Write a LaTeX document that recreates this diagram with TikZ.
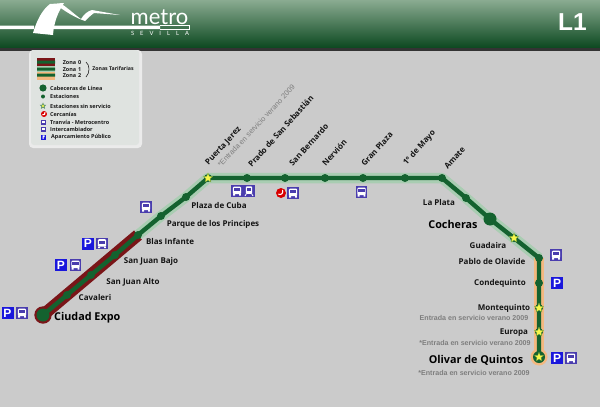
\documentclass[tikz,border=0pt]{standalone}
\usepackage{fontspec}
\setmainfont{Open Sans}
\newfontfamily\grayfont{Liberation Sans}
\newfontfamily\logofont{Lato}
\usetikzlibrary{shapes.geometric,backgrounds}
\definecolor{linegreen}{HTML}{14622F}
\definecolor{bandgreen}{HTML}{A9CDB2}
\definecolor{bandred}{HTML}{7A1518}
\definecolor{bandorange}{HTML}{F3B87F}
\definecolor{bgray}{HTML}{CBCBCB}
\definecolor{iconbus}{HTML}{4A3DAE}
\definecolor{iconp}{HTML}{1A17DC}
\definecolor{labelgray}{HTML}{7E7E7E}
\definecolor{starfill}{HTML}{F6F64A}
\definecolor{headtop}{HTML}{8AAB91}
\definecolor{headmid}{HTML}{3F7A50}
\definecolor{headbot}{HTML}{0E4A22}
\definecolor{panel}{HTML}{DFE3E0}
\tikzset{
  x=1pt,y=-1pt,
  stn/.style={circle,fill=linegreen,inner sep=0,minimum size=8},
  terminal/.style={circle,fill=linegreen,inner sep=0,minimum size=13},
  starstn/.style={star,star points=5,star point ratio=2.3,fill=starfill,draw=linegreen!60!starfill,line width=.3,inner sep=0,minimum size=10},
  lab/.style={font=\bfseries\fontsize{8}{9}\selectfont,text=black!92,inner sep=0},
  biglab/.style={font=\bfseries\fontsize{10.8}{12}\selectfont,text=black,inner sep=0},
  rlab/.style={lab,rotate=48,anchor=south west},
  note/.style={font=\grayfont\bfseries\fontsize{7.1}{8}\selectfont,text=labelgray,inner sep=0},
  leg/.style={font=\bfseries\fontsize{5.45}{6}\selectfont,text=black!90,inner sep=0,anchor=west},
  mainline/.style={line width=4.4,draw=linegreen,line join=round},
  zone0/.style={line width=12,draw=bandred},
  zone1/.style={line width=10.5,draw=bandgreen,line join=round},
  zone2/.style={line width=9.5,draw=bandorange},
  busicon/.pic={
    \fill[iconbus] (-5.7,-5.7) rectangle (5.7,5.7);
    \fill[white,rounded corners=1] (-4.2,-4.3) rectangle (4.2,3.2);
    \fill[iconbus] (-3.2,-2.8) rectangle (3.2,0);
    \fill[white] (-3.8,3) rectangle (-2,4.6) (2,3) rectangle (3.8,4.6);
  },
  tramicon/.pic={
    \fill[iconbus] (-5.7,-5.7) rectangle (5.7,5.7);
    \fill[white,rounded corners=1] (-3.2,-4.6) rectangle (3.2,2.8);
    \fill[iconbus] (-2.3,-3.2) rectangle (2.3,-.4);
    \draw[white,line width=.8] (-2.5,2.5) -- (-4,5) (2.5,2.5) -- (4,5);
  },
  parkicon/.pic={
    \fill[iconp] (-6,-6) rectangle (6,6);
    \node[text=white,inner sep=0,font=\grayfont\bfseries\fontsize{12}{12}\selectfont] at (0,0) {P};
  },
  cericon/.pic={
    \fill[red!85!black] (0,0) circle (5);
    \draw[white,line width=1.1] (1.6,-3.2) .. controls (2.4,0) and (.5,2.4) .. (-2.6,1.2);
  },
  smallbus/.pic={
    \fill[iconbus] (-2.5,-2.5) rectangle (2.5,2.5);
    \fill[white] (-1.5,-1.5) rectangle (1.5,1.2);
  },
  smallp/.pic={
    \fill[iconp] (-2.5,-2.5) rectangle (2.5,2.5);
    \fill[white] (-.8,-1.6) rectangle (1,.2) (-.8,-1.6) rectangle (0,1.8);
  }
}
\begin{document}
\begin{tikzpicture}
\useasboundingbox (0,0) rectangle (600,407);
% stations
\node[terminal] (ciudad) at (43,315) {};
\node[stn] (cavaleri) at (67,295) {};
\node[stn] (sjalto) at (91,275) {};
\node[stn] (sjbajo) at (115,255) {};
\node[stn] (blas) at (138,235) {};
\node[stn] (parque) at (161,216) {};
\node[stn] (cuba) at (186,197) {};
\node[stn] (jerez) at (208,178) {};
\node[starstn] (sjerez) at (208,178) {};
\node[stn] (prado) at (247,178) {};
\node[stn] (bernardo) at (285,178) {};
\node[stn] (nervion) at (325,178) {};
\node[stn] (gran) at (363,178) {};
\node[stn] (mayo) at (405,178) {};
\node[stn] (amate) at (442,178) {};
\node[stn] (plata) at (466,198) {};
\node[terminal] (cocheras) at (490,219) {};
\node[stn] (guadaira) at (514,238) {};
\node[starstn] (sguadaira) at (514,238) {};
\node[stn] (pablo) at (539,258) {};
\node[stn] (condequinto) at (539,283) {};
\node[stn] (montequinto) at (539,308) {};
\node[starstn] (smonte) at (539,308) {};
\node[stn] (europa) at (539,332) {};
\node[starstn] (seuropa) at (539,332) {};
\node[terminal,minimum size=12] (olivar) at (539,357) {};
\node[starstn,minimum size=9.5] (solivar) at (539,357) {};
% background layer
\begin{scope}[on background layer]
  \fill[bgray] (0,0) rectangle (600,407);
  % header
  \fill[black!80] (0,46) rectangle (600,51);
  \shade[top color=headtop,middle color=headmid,bottom color=headbot] (0,0) rectangle (600,47);
  % legend panel
  \fill[white!92!black,rounded corners=4] (29,50) rectangle (142,148);
  \fill[panel,rounded corners=3] (31,50) rectangle (139,145);
  % zone bands
  \draw[zone0] (ciudad.center) -- (blas.center);
  \fill[bandred] (ciudad.center) circle (8.7);
  \draw[zone1] (blas.center) -- (parque.center) -- (cuba.center) -- (jerez.center) -- (prado.center) -- (bernardo.center) -- (nervion.center) -- (gran.center) -- (mayo.center) -- (amate.center) -- (plata.center) -- (cocheras.center) -- (guadaira.center) -- (pablo.center);
  \draw[zone2] (pablo.center) -- (olivar.center);
  \fill[bandorange] (olivar.center) circle (8.5);
  \draw[mainline] (ciudad.center) -- (cavaleri.center) -- (sjalto.center) -- (sjbajo.center) -- (blas.center) -- (parque.center) -- (cuba.center) -- (jerez.center) -- (prado.center) -- (bernardo.center) -- (nervion.center) -- (gran.center) -- (mayo.center) -- (amate.center) -- (plata.center) -- (cocheras.center) -- (guadaira.center) -- (pablo.center) -- (condequinto.center) -- (montequinto.center) -- (europa.center) -- (olivar.center);
\end{scope}
% logo
\fill[white] (0,25.5) rectangle (34,29) (54,25.5) rectangle (160,29);
\fill[white] (33,33) .. controls (37,20) and (42,10) .. (50,4) -- (64,3) .. controls (58,12) and (54,22) .. (53,35) -- cycle;
\fill[white] (60,3) .. controls (68,8) and (74,14) .. (81,19) .. controls (84,14) and (88,11) .. (92,10) -- (120,15) -- (94,13) .. controls (90,16) and (87,19) .. (85,21) .. controls (76,18) and (66,12) .. (58,6) -- cycle;
\node[text=white,inner sep=0,font=\logofont\fontsize{22}{22}\selectfont] (metro) at (159.5,17) {metro};
\node[text=white,inner sep=0,font=\logofont\fontsize{5.8}{6}\selectfont] (sevilla) at (160,33) {S\hskip6pt E\hskip6pt V\hskip6pt I\hskip6pt L\hskip6pt L\hskip6pt A};
\draw[white,line width=.4] (160,29) -- (189,29) -- (189,25.5) -- (160,25.5);
\node[text=white,inner sep=0,font=\grayfont\bfseries\fontsize{24.5}{26}\selectfont] (lone) at (572.5,22.5) {L1};
% labels
\node[biglab,anchor=west] (lciudad) at (54,318) {Ciudad Expo};
\node[lab] (lcav) at (95,297) {Cavaleri};
\node[lab] (lsja) at (133,282) {San Juan Alto};
\node[lab] (lsjb) at (151,261) {San Juan Bajo};
\node[lab] (lbla) at (170,241) {Blas Infante};
\node[lab] (lpar) at (213,224) {Parque de los Principes};
\node[lab] (lcub) at (219,205) {Plaza de Cuba};
\node[rlab] (ljer) at (210,167) {Puerta Jerez};
\node[note,rotate=47,anchor=south west,font=\grayfont\fontsize{7.4}{8}\selectfont] (njer) at (221,168) {*Entrada en servicio verano 2009};
\node[rlab] (lpra) at (252,168) {Prado de San Sebastián};
\node[rlab] (lber) at (293,167) {San Bernardo};
\node[rlab] (lner) at (326,167) {Nervión};
\node[rlab] (lgra) at (365,167) {Gran Plaza};
\node[rlab] (lmay) at (408,167) {1º de Mayo};
\node[rlab] (lama) at (448,170) {Amate};
\node[lab] (lpla) at (439,202) {La Plata};
\node[biglab] (lcoc) at (453,224) {Cocheras};
\node[lab] (lgua) at (488,245) {Guadaira};
\node[lab] (lpab) at (492,261) {Pablo de Olavide};
\node[lab] (lcon) at (500,283.5) {Condequinto};
\node[lab] (lmon) at (504,308) {Montequinto};
\node[note] (nmon) at (474,318) {Entrada en servicio verano 2009};
\node[lab] (leur) at (514,333) {Europa};
\node[note] (neur) at (475,343) {*Entrada en servicio verano 2009};
\node[biglab] (loli) at (476,360) {Olivar de Quintos};
\node[note] (noli) at (474,373) {*Entrada en servicio verano 2009};
% icons
\pic at (7.5,313) {parkicon}; \pic at (22,313) {busicon};
\pic at (61,265) {parkicon}; \pic at (75.5,265) {busicon};
\pic at (88,243.5) {parkicon}; \pic at (102,243.5) {busicon};
\pic at (146,207) {busicon};
\pic at (237,191) {busicon}; \pic at (249,191) {tramicon};
\pic at (281,193) {cericon}; \pic at (293,193) {busicon};
\pic at (361.5,192) {busicon};
\pic at (556,255) {busicon};
\pic at (557,283) {parkicon};
\pic at (557,358) {parkicon}; \pic at (571,358) {busicon};
% legend
\fill[bandred] (37,58) rectangle (55,66);
\fill[bandgreen] (37,66) rectangle (55,72);
\fill[bandorange] (37,72) rectangle (55,80);
\fill[linegreen] (37,60.5) rectangle (55,63.5) (37,67.5) rectangle (55,70.5) (37,73.5) rectangle (55,76.5);
\node[leg,anchor=center] (z0) at (72,62.5) {Zona\,\,0};
\node[leg,anchor=center] (z1) at (72,69.3) {Zona\,\,1};
\node[leg,anchor=center] (z2) at (72,76) {Zona\,\,2};
\draw[black!85,line width=.6] (86,62) .. controls (90,65) and (90,73) .. (86,77);
\node[leg,anchor=center,font=\bfseries\fontsize{5.2}{6}\selectfont] (zt) at (113,68.7) {Zonas Tarifarias};
\fill[linegreen] (43,88) circle (3.6);
\node[leg] (lg1) at (50,88.5) {Cabeceras de Línea};
\fill[linegreen] (43,96.5) circle (2);
\node[leg] (lg2) at (50,96.5) {Estaciones};
\node[star,star points=5,star point ratio=2.2,fill=starfill,draw=linegreen!70,line width=.6,inner sep=0,minimum size=5.5] (lgstar) at (43,106) {};
\node[leg] (lg3) at (50,106) {Estaciones sin servicio};
\pic[scale=.6] at (44,114) {cericon};
\node[leg] (lg4) at (50,114) {Cercanías};
\pic at (43.5,122) {smallbus};
\node[leg] (lg5) at (50,122) {Tranvía - Metrocentro};
\pic at (43.5,129) {smallbus};
\node[leg] (lg6) at (50,129) {Intercambiador};
\pic at (43.5,137) {smallp};
\node[leg] (lg7) at (51,137) {Aparcamiento Público};
\end{tikzpicture}
\end{document}
